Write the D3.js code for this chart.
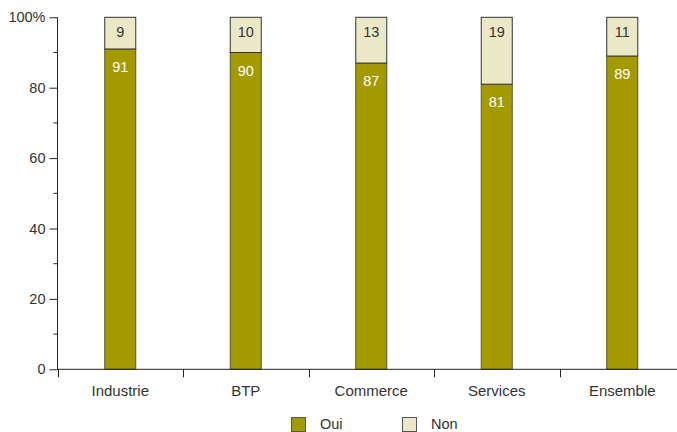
<!DOCTYPE html>
<html>
<head>
<meta charset="utf-8">
<script src="https://cdn.jsdelivr.net/npm/d3@7"></script>
<style>
  html, body { margin: 0; padding: 0; background: #fff; }
  svg { display: block; font-family: "Liberation Sans", Arial, sans-serif; }
</style>
</head>
<body>
<svg id="chart" width="677" height="432"></svg>
<script>
// Categories and shares (%)
const categories = ["Industrie", "BTP", "Commerce", "Services", "Ensemble"];
const oui = [91, 90, 87, 81, 89];
const non = [9, 10, 13, 19, 11];
const seriesNames = ["Oui", "Non"];
const yTicks = [0, 20, 40, 60, 80, 100];
const yMinorTicks = [10, 30, 50, 70, 90];

const colors = { Oui: "#a39a00", Non: "#ebe8c8" };
const textColor = "#333";

const svg = d3.select("#chart");
const plotLeft = 57.5, plotTop = 17.3, plotBottom = 369.3;
const bandW = 125.5;

const x = d3.scaleBand()
  .domain(categories)
  .range([plotLeft, plotLeft + bandW * categories.length])
  .paddingInner(0).paddingOuter(0);
const y = d3.scaleLinear().domain([0, 100]).range([plotBottom, plotTop]);

const barW = 31;

// Stacked data
const rows = categories.map((c, i) => ({ cat: c, Oui: oui[i], Non: non[i] }));
const stack = d3.stack().keys(seriesNames)(rows);

// Bars
const g = svg.append("g");
stack.forEach(layer => {
  const key = layer.key;
  g.selectAll(null)
    .data(layer)
    .join("rect")
    .attr("x", d => x(d.data.cat) + x.bandwidth() / 2 - barW / 2)
    .attr("y", d => y(d[1]))
    .attr("width", barW)
    .attr("height", d => y(d[0]) - y(d[1]))
    .attr("fill", colors[key])
    .attr("stroke", key === "Oui" ? "#5a5530" : "#333")
    .attr("stroke-width", 1);
});

// Value labels
stack.forEach(layer => {
  const key = layer.key;
  g.selectAll(null)
    .data(layer)
    .join("text")
    .attr("x", d => x(d.data.cat) + x.bandwidth() / 2)
    .attr("y", d => y(d[1]) + (key === "Oui" ? 18 : 15))
    .attr("dy", "0.35em")
    .attr("text-anchor", "middle")
    .attr("font-size", 14.5)
    .attr("fill", key === "Oui" ? "#fff" : textColor)
    .text(d => d.data[key]);
});

// Y axis
const yAxis = d3.axisLeft(y)
  .tickValues(yTicks)
  .tickSize(8)
  .tickPadding(4)
  .tickFormat(d => d === 100 ? "100%" : d);
const ya = svg.append("g")
  .attr("transform", `translate(${plotLeft},0)`)
  .call(yAxis);
ya.select(".domain").attr("stroke", "#222").attr("d", `M0,${plotTop}V${plotBottom}`);
ya.selectAll(".tick line").attr("stroke", "#222");
ya.selectAll(".tick text").attr("font-size", 14.5).attr("fill", textColor)
  .attr("font-family", "Liberation Sans, Arial, sans-serif");

// Minor ticks
ya.selectAll(".minor")
  .data(yMinorTicks)
  .join("line")
  .attr("class", "minor")
  .attr("x1", -4).attr("x2", 0)
  .attr("y1", d => y(d)).attr("y2", d => y(d))
  .attr("stroke", "#222");

// X axis
const xAxis = d3.axisBottom(x).tickSize(0).tickPadding(16);
const xa = svg.append("g")
  .attr("transform", `translate(0,${plotBottom})`)
  .call(xAxis);
xa.select(".domain").attr("stroke", "#222").attr("d", `M${plotLeft},0H677`);
xa.selectAll(".tick text").attr("font-size", 15).attr("fill", textColor)
  .attr("font-family", "Liberation Sans, Arial, sans-serif");

// Separator ticks between categories
const bounds = categories.map(c => x(c));
xa.selectAll(".sep")
  .data(bounds)
  .join("line")
  .attr("class", "sep")
  .attr("x1", d => Math.round(d) + 0.5).attr("x2", d => Math.round(d) + 0.5)
  .attr("y1", 0).attr("y2", 8)
  .attr("stroke", "#222");

// Legend
const legendX = [291, 402];
const legend = svg.append("g");
seriesNames.forEach((s, i) => {
  legend.append("rect")
    .attr("x", legendX[i] + 0.5).attr("y", 417.5)
    .attr("width", 14).attr("height", 14)
    .attr("fill", colors[s])
    .attr("stroke", "#555");
  legend.append("text")
    .attr("x", legendX[i] + 29).attr("y", 423.5)
    .attr("dy", "0.35em")
    .attr("font-size", 14.5)
    .attr("fill", textColor)
    .text(s);
});
</script>
</body>
</html>
